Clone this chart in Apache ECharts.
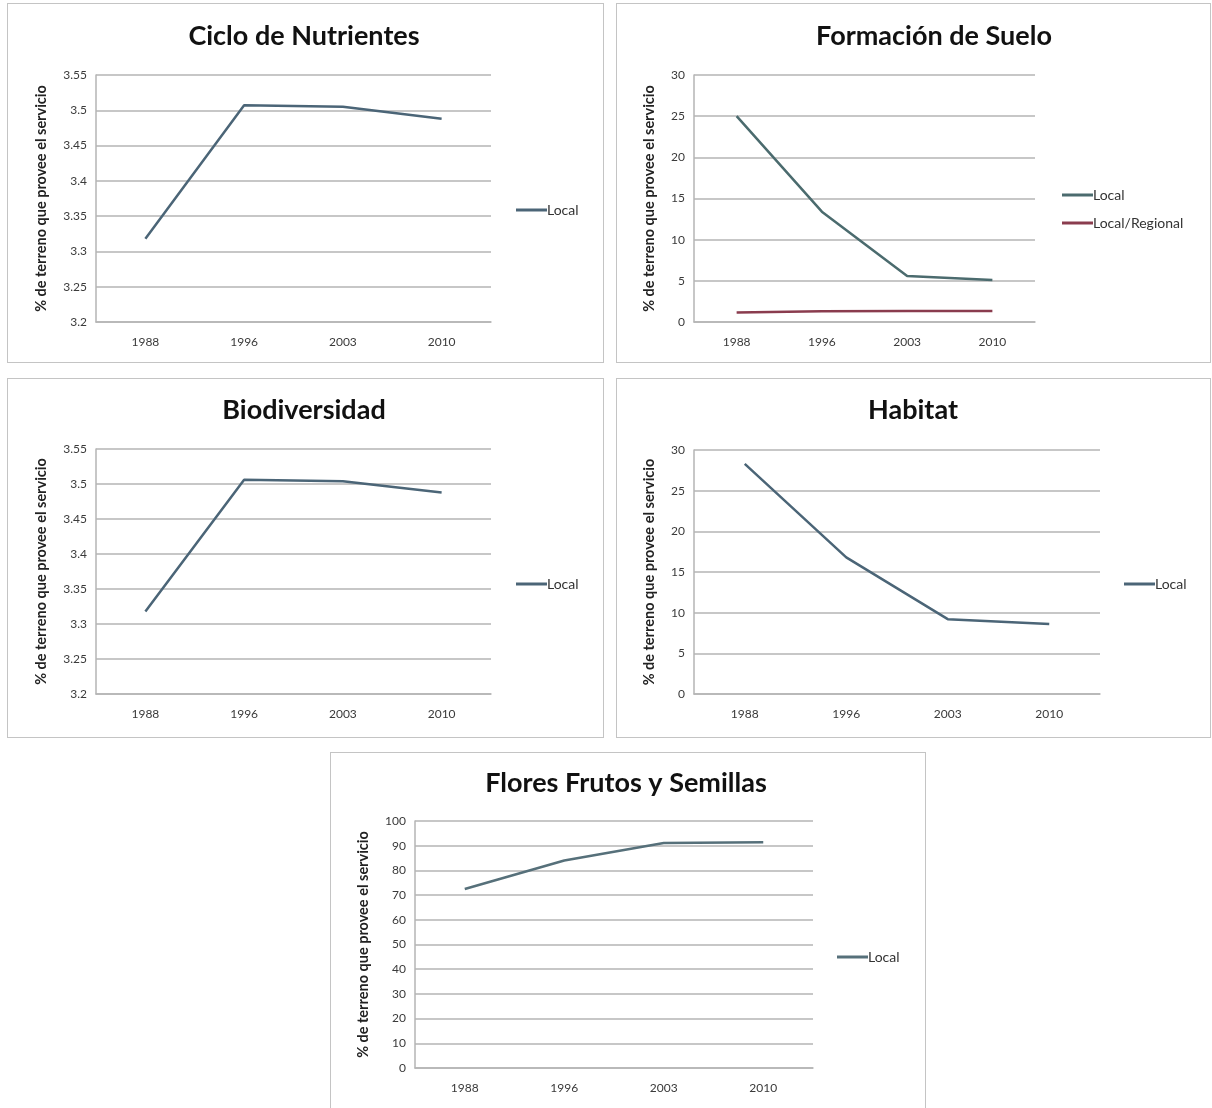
<!DOCTYPE html>
<html>
<head>
<meta charset="utf-8">
<script src="https://cdn.jsdelivr.net/npm/echarts@6/dist/echarts.min.js"></script>
<style>
  html, body { margin: 0; padding: 0; background: #ffffff; }
  body { width: 1212px; height: 1108px; position: relative; overflow: hidden; }
  .panel { position: absolute; box-sizing: border-box; border: 1px solid #c4c4c4; background: #fff; }
</style>
</head>
<body>
<div id="p1" class="panel" style="left:7px;top:3px;width:597px;height:360px;"></div>
<div id="p2" class="panel" style="left:616px;top:3px;width:595px;height:360px;"></div>
<div id="p3" class="panel" style="left:7px;top:378px;width:597px;height:360px;"></div>
<div id="p4" class="panel" style="left:616px;top:378px;width:595px;height:360px;"></div>
<div id="p5" class="panel" style="left:330px;top:752px;width:596px;height:360px;"></div>
<script>
// Years sampled
const years = ['1988', '1996', '2003', '2010'];

// % of land providing each ecosystem service
const cicloLocal = [3.318, 3.507, 3.505, 3.488];
const sueloLocal = [25.0, 13.4, 5.6, 5.1];
const sueloRegional = [1.15, 1.3, 1.35, 1.35];
const bioLocal = [3.318, 3.506, 3.504, 3.488];
const habitatLocal = [28.3, 16.8, 9.2, 8.6];
const floresLocal = [72.5, 84.0, 91.1, 91.4];

const yName = '% de terreno que provee el servicio';
const FONT = 'Lato, "Open Sans", sans-serif';
const LOCAL_COLOR = '#4b6577';
const REGIONAL_COLOR = '#8a3c4e';

function makeChart(id, cfg) {
  const chart = echarts.init(document.getElementById(id), null, { renderer: 'canvas' });
  const series = cfg.series.map(s => ({
    name: s.name,
    type: 'line',
    data: s.data,
    symbol: 'none',
    color: s.color,
    lineStyle: { color: s.color, width: 2.5 },
    animation: false
  }));
  chart.setOption({
    animation: false,
    textStyle: { fontFamily: FONT },
    title: {
      text: cfg.title,
      left: cfg.titleX,
      top: cfg.titleTop,
      textAlign: 'center',
      textStyle: { fontFamily: FONT, fontWeight: 'bold', fontSize: 27, color: '#111' }
    },
    legend: {
      orient: 'vertical',
      left: cfg.legendLeft,
      top: cfg.legendTop,
      icon: 'rect',
      itemWidth: 31,
      itemHeight: 3,
      itemGap: 14,
      textStyle: { fontFamily: FONT, fontSize: 14, color: '#333', padding: [0, 0, 0, -5] },
      data: cfg.series.map(s => s.name)
    },
    grid: {
      left: cfg.grid[0], top: cfg.grid[1], width: cfg.grid[2], height: cfg.grid[3],
      containLabel: false
    },
    xAxis: {
      type: 'category',
      data: years,
      boundaryGap: true,
      axisLine: { show: true, lineStyle: { color: '#b5b5b5', width: 1.5 } },
      axisTick: { show: false },
      axisLabel: { margin: 14, fontSize: 12, color: '#3a3a3a', fontFamily: FONT }
    },
    yAxis: {
      type: 'value',
      min: cfg.yMin,
      max: cfg.yMax,
      interval: cfg.yStep,
      name: yName,
      nameLocation: 'middle',
      nameGap: cfg.nameGap,
      nameTextStyle: { fontFamily: FONT, fontWeight: 'bold', fontSize: 14.5, color: '#222' },
      axisLine: { show: true, lineStyle: { color: '#b5b5b5', width: 1.5 } },
      axisTick: { show: false },
      axisLabel: { margin: 9, fontSize: 12, color: '#3a3a3a', fontFamily: FONT },
      splitLine: { show: true, lineStyle: { color: '#b5b5b5', width: 1.5 } }
    },
    series: series
  });
}

makeChart('p1', {
  title: 'Ciclo de Nutrientes', titleX: 291, titleTop: 14,
  grid: [88, 71, 395, 247],
  yMin: 3.2, yMax: 3.55, yStep: 0.05, nameGap: 47,
  legendLeft: 503, legendTop: 194,
  series: [{ name: 'Local', data: cicloLocal, color: LOCAL_COLOR }]
});

makeChart('p2', {
  title: 'Formación de Suelo', titleX: 312, titleTop: 14,
  grid: [77, 71, 341, 247],
  yMin: 0, yMax: 30, yStep: 5, nameGap: 37,
  legendLeft: 440, legendTop: 179,
  series: [
    { name: 'Local', data: sueloLocal, color: '#4b6b6e' },
    { name: 'Local/Regional', data: sueloRegional, color: REGIONAL_COLOR }
  ]
});

makeChart('p3', {
  title: 'Biodiversidad', titleX: 291, titleTop: 13,
  grid: [88, 70, 395, 245],
  yMin: 3.2, yMax: 3.55, yStep: 0.05, nameGap: 47,
  legendLeft: 503, legendTop: 193,
  series: [{ name: 'Local', data: bioLocal, color: LOCAL_COLOR }]
});

makeChart('p4', {
  title: 'Habitat', titleX: 291, titleTop: 13,
  grid: [77, 71, 406, 244],
  yMin: 0, yMax: 30, yStep: 5, nameGap: 37,
  legendLeft: 502, legendTop: 193,
  series: [{ name: 'Local', data: habitatLocal, color: LOCAL_COLOR }]
});

makeChart('p5', {
  title: 'Flores Frutos y Semillas', titleX: 290, titleTop: 12,
  grid: [84, 68, 398, 247],
  yMin: 0, yMax: 100, yStep: 10, nameGap: 44,
  legendLeft: 501, legendTop: 192,
  series: [{ name: 'Local', data: floresLocal, color: '#56707a' }]
});
</script>
</body>
</html>
